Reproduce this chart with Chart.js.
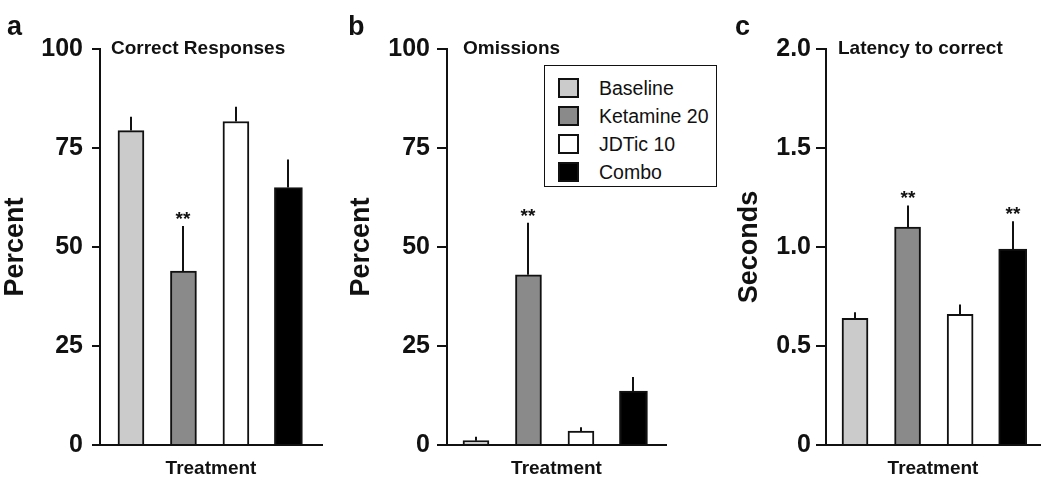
<!DOCTYPE html>
<html>
<head>
<meta charset="utf-8">
<script src="https://cdn.jsdelivr.net/npm/chart.js@4.4.1/dist/chart.umd.min.js"></script>
<style>
    body { margin: 0; background: #fff; }
    #wrap { position: relative; width: 1050px; height: 489px; overflow: hidden; }
    .panel { position: absolute; top: 0; width: 350px; height: 489px; }
    #legend-container {
        position: absolute; left: 544px; top: 65px; width: 173px; height: 122px;
        box-sizing: border-box; border: 1.5px solid #111; background: #fff;
        font-family: "Liberation Sans", Arial, sans-serif;
    }
</style>
</head>
<body>
<div id="wrap">
    <div class="panel" style="left:0px"><canvas id="chartA" width="350" height="489"></canvas></div>
    <div class="panel" style="left:350px"><canvas id="chartB" width="350" height="489"></canvas></div>
    <div class="panel" style="left:700px"><canvas id="chartC" width="350" height="489"></canvas></div>
    <div id="legend-container"></div>
</div>
<script>
// data
const categories = ['Baseline', 'Ketamine 20', 'JDTic 10', 'Combo'];
const barColors = ['#cbcbcb', '#8a8a8a', '#ffffff', '#000000'];

const correctMean = [79.4, 43.9, 81.7, 65.0];
const correctErr = [3.5, 11.4, 3.7, 7.1];
const correctSig = ['', '**', '', ''];

const omissionMean = [1.1, 43.0, 3.5, 13.6];
const omissionErr = [1.0, 13.1, 1.0, 3.6];
const omissionSig = ['', '**', '', ''];

const latencyMean = [0.64, 1.10, 0.66, 0.99];
const latencyErr = [0.03, 0.11, 0.05, 0.14];
const latencySig = ['', '**', '', '**'];

const percentTicks = [0, 25, 50, 75, 100];
const secondTicks = [0, 0.5, 1.0, 1.5, 2.0];

const FONT = '"Liberation Sans", Arial, Helvetica, sans-serif';
const INK = '#111';

const getOrCreateLegendList = (id) => {
    const legendContainer = document.getElementById(id);
    let listContainer = legendContainer.querySelector('ul');
    if (!listContainer) {
        listContainer = document.createElement('ul');
        listContainer.style.listStyle = 'none';
        listContainer.style.margin = 0;
        listContainer.style.padding = '8px 0 0 0';
        legendContainer.appendChild(listContainer);
    }
    return listContainer;
};

const htmlLegendPlugin = {
    id: 'htmlLegend',
    afterUpdate(chart, args, options) {
        if (!options.containerID) return;
        const ul = getOrCreateLegendList(options.containerID);
        while (ul.firstChild) {
            ul.firstChild.remove();
        }
        const items = chart.options.plugins.legend.labels.generateLabels(chart);
        items.forEach(item => {
            const li = document.createElement('li');
            li.style.display = 'flex';
            li.style.alignItems = 'center';
            li.style.height = '28px';
            li.style.paddingLeft = '13px';

            // colour box
            const boxSpan = document.createElement('span');
            boxSpan.style.background = item.fillStyle;
            boxSpan.style.border = '2px solid #111';
            boxSpan.style.boxSizing = 'border-box';
            boxSpan.style.display = 'inline-block';
            boxSpan.style.width = '21px';
            boxSpan.style.height = '20px';
            boxSpan.style.marginRight = '20px';

            const text = document.createElement('span');
            text.style.fontSize = '19.5px';
            text.style.color = INK;
            text.textContent = item.text;

            li.appendChild(boxSpan);
            li.appendChild(text);
            ul.appendChild(li);
        });
    }
};

// error bars, stars, panel title and letter
const decorPlugin = {
    id: 'decor',
    afterDatasetsDraw(chart, args, opts) {
        const {ctx, scales: {x, y}} = chart;
        ctx.save();
        ctx.strokeStyle = INK;
        ctx.fillStyle = INK;
        ctx.lineWidth = 2;
        ctx.font = 'bold 19px ' + FONT;
        ctx.textAlign = 'center';
        ctx.textBaseline = 'alphabetic';
        opts.means.forEach((m, i) => {
            const px = Math.round(x.getPixelForValue(i + 1));
            const base = y.getPixelForValue(m);
            const top = y.getPixelForValue(m + opts.errs[i]);
            ctx.beginPath();
            ctx.moveTo(px, base);
            ctx.lineTo(px, top);
            ctx.stroke();
            if (opts.sig[i]) {
                ctx.fillText(opts.sig[i], px, top - 1);
            }
        });
        ctx.restore();
    },
    afterDraw(chart, args, opts) {
        const {ctx} = chart;
        ctx.save();
        ctx.fillStyle = INK;
        ctx.textAlign = 'left';
        ctx.textBaseline = 'alphabetic';
        ctx.font = 'bold 19px ' + FONT;
        ctx.fillText(opts.title, opts.titleX, 54);
        ctx.font = 'bold 27px ' + FONT;
        ctx.fillText(opts.letter, opts.letterX, 35);
        ctx.restore();
    }
};

function makePanel(id, p) {
    const datasets = categories.map((c, i) => ({
        label: c,
        data: [{x: i + 1, y: p.means[i]}],
        backgroundColor: barColors[i],
        borderColor: INK,
        borderWidth: 2,
        borderSkipped: 'start',
        barThickness: i === 3 ? 28 : 26,
        grouped: false
    }));
    return new Chart(id, {
        type: 'bar',
        data: {datasets},
        options: {
            responsive: false,
            animation: false,
            events: [],
            layout: {padding: {left: p.padLeft, right: p.padRight, top: 49, bottom: 9}},
            scales: {
                x: {
                    type: 'linear',
                    offset: false,
                    min: p.xMin,
                    max: p.xMax,
                    ticks: {display: false},
                    grid: {display: false},
                    border: {display: true, color: INK, width: 2, z: 1},
                    title: {
                        display: true,
                        text: 'Treatment',
                        color: INK,
                        font: {family: FONT, size: 19, weight: 'bold'},
                        padding: {top: 0, bottom: 0}
                    },
                    afterFit: s => { s.height = 35; }
                },
                y: {
                    min: 0,
                    max: p.yTicks[p.yTicks.length - 1],
                    afterBuildTicks: s => { s.ticks = p.yTicks.map(v => ({value: v})); },
                    ticks: {
                        color: INK,
                        padding: p.tickPad,
                        font: {family: FONT, size: 25, weight: 'bold'},
                        callback: p.fmt
                    },
                    grid: {
                        drawOnChartArea: false,
                        drawTicks: true,
                        tickLength: p.tickLen,
                        color: INK,
                        lineWidth: 2
                    },
                    border: {display: true, color: INK, width: 2},
                    title: {
                        display: true,
                        text: p.yTitle,
                        color: INK,
                        font: {family: FONT, size: 27, weight: 'bold', lineHeight: 1},
                        padding: {top: p.titlePad, bottom: 0}
                    },
                    afterFit: s => { s.width = p.yWidth; }
                }
            },
            plugins: {
                legend: {display: false},
                tooltip: {enabled: false},
                htmlLegend: {containerID: p.legendID || null},
                decor: {
                    means: p.means, errs: p.errs, sig: p.sig,
                    title: p.title, titleX: p.titleX,
                    letter: p.letter, letterX: p.letterX
                }
            }
        },
        plugins: [htmlLegendPlugin, decorPlugin]
    });
}

makePanel('chartA', {
    means: correctMean, errs: correctErr, sig: correctSig,
    yTicks: percentTicks, fmt: v => String(v),
    yTitle: 'Percent', title: 'Correct Responses', titleX: 111,
    letter: 'a', letterX: 7,
    padLeft: 2, padRight: 28, yWidth: 98, titlePad: 0,
    tickLen: 8, tickPad: 9, xMin: 0.41, xMax: 4.64
});

makePanel('chartB', {
    means: omissionMean, errs: omissionErr, sig: omissionSig,
    yTicks: percentTicks, fmt: v => String(v),
    yTitle: 'Percent', title: 'Omissions', titleX: 113,
    letter: 'b', letterX: -2,
    padLeft: 0, padRight: 34, yWidth: 97, titlePad: -2,
    tickLen: 10, tickPad: 7, xMin: 0.448, xMax: 4.62,
    legendID: 'legend-container'
});

makePanel('chartC', {
    means: latencyMean, errs: latencyErr, sig: latencySig,
    yTicks: secondTicks, fmt: v => (v === 0 ? '0' : v.toFixed(1)),
    yTitle: 'Seconds', title: 'Latency to correct', titleX: 138,
    letter: 'c', letterX: 35,
    padLeft: 36, padRight: 10, yWidth: 90, titlePad: 0,
    tickLen: 10, tickPad: 5, xMin: 0.448, xMax: 4.52
});
</script>
</body>
</html>
